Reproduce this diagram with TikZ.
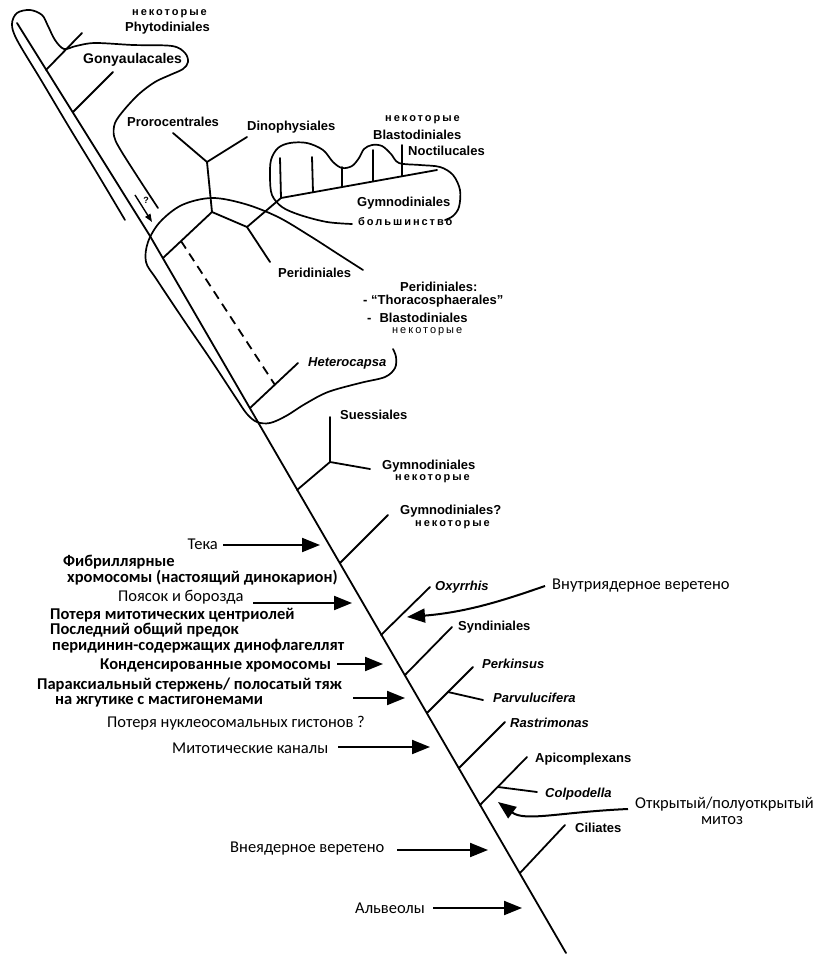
\documentclass[tikz,border=0pt]{standalone}
\usepackage{fontspec}
\setmainfont{Liberation Sans}
\newfontfamily\ru{Carlito}
\newfontfamily\spaced[LetterSpace=18]{Liberation Sans}
\usetikzlibrary{arrows.meta}
\begin{document}
\begin{tikzpicture}[x=1pt,y=-1pt]
\tikzset{
 tree/.style={line width=1.8pt, line cap=round},
 hull/.style={line width=1.7pt, line cap=round},
 arr/.style={line width=2pt, -{Triangle[length=18pt,width=14pt]}},
 qarr/.style={line width=1.4pt, -{Triangle[length=8pt,width=6pt]}},
 lab/.style={font=\fontsize{13}{15}\selectfont\bfseries, inner sep=0pt, anchor=west},
 labi/.style={font=\fontsize{13}{15}\selectfont\bfseries\itshape, inner sep=0pt, anchor=west},
 sm/.style={font=\spaced\fontsize{11}{12}\selectfont\bfseries, inner sep=0pt, anchor=west},
 smr/.style={font=\spaced\fontsize{11}{12}\selectfont, inner sep=0pt, anchor=west},
 ru/.style={font=\ru\fontsize{16.5}{18}\selectfont, inner sep=0pt, anchor=west},
 rub/.style={font=\ru\fontsize{16.5}{18}\selectfont\bfseries, inner sep=0pt, anchor=west}
}
\useasboundingbox[fill=white] (0,0) rectangle (827,957);

% ---------- trunk ----------
\coordinate (T0) at (17,23);
\coordinate (Tb) at (150,236);
\coordinate (T1) at (566,953);
\draw[tree] (T0) -- (Tb) -- (T1);

% ---------- branch points ----------
\coordinate (bPhy) at (46,70);   \coordinate (tPhy) at (82,33);
\coordinate (bGon) at (73,112);  \coordinate (tGon) at (113,72);
\coordinate (bPer) at (163,258); \coordinate (N1) at (212,212);
\coordinate (N0) at (207,162);   \coordinate (tPro) at (173,133); \coordinate (tDin) at (247,137);
\coordinate (N2) at (247,227);   \coordinate (tPerid) at (270,262);
\coordinate (N3) at (281,198);   \coordinate (tGym) at (437,170);
\coordinate (g1t) at (280,158);
\coordinate (g2) at (313,192);   \coordinate (g2t) at (312,157);
\coordinate (g3) at (342,187);   \coordinate (g3t) at (342,167);
\coordinate (g4) at (373,181);   \coordinate (g4t) at (373,150);
\coordinate (g5) at (402,176);   \coordinate (g5t) at (402,145);
\coordinate (dA) at (181,241);   \coordinate (dB) at (275,385);
\coordinate (bHet) at (250,408); \coordinate (tHet) at (298,363);
\coordinate (bSue) at (297,490); \coordinate (S) at (330,462);
\coordinate (tSue) at (330,417); \coordinate (tGymS) at (370,469);
\coordinate (bGq) at (340,563);  \coordinate (tGq) at (388,515);
\coordinate (bOxy) at (381,635); \coordinate (tOxy) at (430,587);
\coordinate (bSyn) at (405,675); \coordinate (tSyn) at (452,627);
\coordinate (bPk) at (427,713);  \coordinate (tPk) at (473,667);
\coordinate (sPk) at (448,692);  \coordinate (tPv) at (483,700);
\coordinate (bRas) at (459,768); \coordinate (tRas) at (505,722);
\coordinate (bApi) at (480,805); \coordinate (tApi) at (527,757);
\coordinate (sApi) at (498,787); \coordinate (tCol) at (537,792);
\coordinate (bCil) at (520,873); \coordinate (tCil) at (565,825);

\draw[tree] (bPhy) -- (tPhy);
\draw[tree] (bGon) -- (tGon);
\draw[tree] (bPer) -- (N1) -- (N0);
\draw[tree] (tPro) -- (N0) -- (tDin);
\draw[tree] (N1) -- (N2) -- (tPerid);
\draw[tree] (N2) -- (N3) -- (tGym);
\draw[tree] (N3) -- (g1t);
\draw[tree] (g2) -- (g2t);
\draw[tree] (g3) -- (g3t);
\draw[tree] (g4) -- (g4t);
\draw[tree] (g5) -- (g5t);
\draw[tree, dash pattern=on 9pt off 6pt, line cap=butt] (dA) -- (dB);
\draw[tree] (bHet) -- (tHet);
\draw[tree] (bSue) -- (S) -- (tSue);
\draw[tree] (S) -- (tGymS);
\draw[tree] (bGq) -- (tGq);
\draw[tree] (bOxy) -- (tOxy);
\draw[tree] (bSyn) -- (tSyn);
\draw[tree] (bPk) -- (tPk);
\draw[tree] (sPk) -- (tPv);
\draw[tree] (bRas) -- (tRas);
\draw[tree] (bApi) -- (tApi);
\draw[tree] (sApi) -- (tCol);
\draw[tree] (bCil) -- (tCil);

% ---------- hulls ----------
\draw[hull] plot[smooth, tension=0.55] coordinates {(125,220) (97,173) (69,127) (41,80) (17,40) (12,24) (17,13) (30,10) (42,15) (48,26) (55,40) (64,49) (76,46) (95,43) (133,45) (172,46) (185,53) (188,62) (183,69) (170,75) (155,82) (139,94) (124,110) (115,123) (114,136) (120,149) (139,179) (158,208)};

\draw[hull] plot[smooth, tension=0.55] coordinates {(363,270) (338,254) (310,236) (278,217) (245,204) (212,198) (182,205) (160,222) (148,242) (146,262) (157,280) (185,322) (211,360) (236,398) (247,414) (257,422) (270,423) (286,416) (305,404) (328,392) (360,383) (385,377) (395,368) (396,357) (393,349)};

\draw[hull] plot[smooth, tension=0.55] coordinates {(352,224) (327,222) (300,215) (282,207) (272,195) (270,178) (271,160) (278,148) (290,143) (307,143) (323,150) (333,162) (342,168) (352,166) (359,158) (364,149) (372,145) (382,146) (391,154) (399,163) (420,165) (440,167) (453,175) (460,190) (459,207) (453,216) (445,220)};

% ---------- question arrow ----------
\coordinate (qA) at (135,195); \coordinate (qB) at (152,222);
\draw[qarr] (qA) -- (qB);
\node[font=\fontsize{9}{10}\selectfont\bfseries, inner sep=0pt] (qm) at (146,200) {?};

% ---------- taxon labels ----------
\node[sm] (nSome1) at (132,14) {некоторые};
\node[lab] (nPhy) at (125,28) {Phytodiniales};
\node[lab, font=\fontsize{14}{16}\selectfont\bfseries] (nGon) at (83,60) {Gonyaulacales};
\node[lab] (nPro) at (127,122) {Prorocentrales};
\node[lab] (nDin) at (247,127) {Dinophysiales};
\node[sm] (nSome2) at (385,120) {некоторые};
\node[lab] (nBla) at (373,135) {Blastodiniales};
\node[lab] (nNoc) at (408,151) {Noctilucales};
\node[lab] (nGymM) at (357,203) {Gymnodiniales};
\node[sm] (nMost) at (358,222) {большинство};
\node[lab] (nPerid) at (278,273) {Peridiniales};
\node[lab] (nPerid2) at (400,287) {Peridiniales:};
\node[lab] (nThor) at (363,301) {- “Thoracosphaerales”};
\node[lab] (nBla2) at (367,318) {-\hspace{8pt}Blastodiniales};
\node[smr] (nSome3) at (392,332) {некоторые};
\node[labi] (nHet) at (308,363) {Heterocapsa};
\node[lab] (nSue) at (340,415) {Suessiales};
\node[lab] (nGymS) at (382,466) {Gymnodiniales};
\node[sm] (nSome4) at (395,479) {некоторые};
\node[lab] (nGq) at (400,511) {Gymnodiniales?};
\node[sm] (nSome5) at (415,525) {некоторые};
\node[labi] (nOxy) at (435,587) {Oxyrrhis};
\node[lab] (nSyn) at (458,627) {Syndiniales};
\node[labi] (nPk) at (482,664) {Perkinsus};
\node[labi] (nPv) at (493,698) {Parvulucifera};
\node[labi] (nRas) at (510,723) {Rastrimonas};
\node[lab] (nApi) at (535,759) {Apicomplexans};
\node[labi] (nCol) at (545,794) {Colpodella};
\node[lab] (nCil) at (575,828) {Ciliates};

% ---------- character labels (left) ----------
\node[ru, anchor=east] (cTeka) at (218,544) {Тека};
\node[rub] (cFib1) at (63,562) {Фибриллярные};
\node[rub] (cFib2) at (67,578) {хромосомы (настоящий динокарион)};
\node[ru] (cPoy) at (118,597) {Поясок и борозда};
\node[rub] (cPot) at (50,615) {Потеря митотических центриолей};
\node[rub] (cPos1) at (50,630) {Последний общий предок};
\node[rub] (cPos2) at (52,646) {перидинин-содержащих динофлагеллят};
\node[rub] (cKon) at (100,665) {Конденсированные хромосомы};
\node[rub] (cPar1) at (37,685) {Параксиальный стержень/ полосатый тяж};
\node[rub] (cPar2) at (55,702) {на жгутике с мастигонемами};
\node[ru] (cNuc) at (107,723) {Потеря нуклеосомальных гистонов ?};
\node[ru] (cMit) at (172,748) {Митотические каналы};
\node[ru] (cVne) at (230,849) {Внеядерное веретено};
\node[ru] (cAlv) at (355,908) {Альвеолы};
\node[ru] (cVnu) at (552,586) {Внутриядерное веретено};
\node[ru] (cOtk1) at (635,804) {Открытый/полуоткрытый};
\node[ru, anchor=center] (cOtk2) at (722,821) {митоз};

% ---------- arrows ----------
\coordinate (aTekaS) at (223,545); \coordinate (aTekaE) at (320,545);
\coordinate (aPoyS) at (253,603);  \coordinate (aPoyE) at (352,603);
\coordinate (aKonS) at (337,664);  \coordinate (aKonE) at (383,664);
\coordinate (aParS) at (353,698);  \coordinate (aParE) at (405,698);
\coordinate (aMitS) at (338,747);  \coordinate (aMitE) at (430,747);
\coordinate (aVneS) at (397,850);  \coordinate (aVneE) at (488,850);
\coordinate (aAlvS) at (433,908);  \coordinate (aAlvE) at (522,908);
\coordinate (aVnuS) at (545,586);  \coordinate (aVnuE) at (407,617);
\coordinate (aOtkS) at (628,809);  \coordinate (aOtkE) at (498,802);
\draw[arr] (aTekaS) -- (aTekaE);
\draw[arr] (aPoyS) -- (aPoyE);
\draw[arr] (aKonS) -- (aKonE);
\draw[arr] (aParS) -- (aParE);
\draw[arr] (aMitS) -- (aMitE);
\draw[arr] (aVneS) -- (aVneE);
\draw[arr] (aAlvS) -- (aAlvE);
\draw[arr] (aVnuS) .. controls (510,598) and (470,612) .. (aVnuE);
\draw[arr] (aOtkS) .. controls (560,812) and (525,822) .. (aOtkE);
\end{tikzpicture}
\end{document}
